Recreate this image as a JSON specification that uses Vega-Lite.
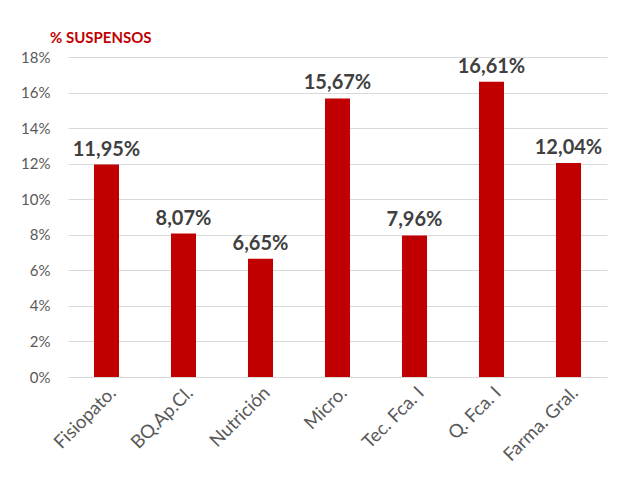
{
  "$schema": "https://vega.github.io/schema/vega-lite/v6.json",
  "autosize": {"type": "none"},
  "width": 539,
  "height": 320,
  "padding": {"left": 68, "top": 57, "right": 11, "bottom": 106},
  "background": "white",
  "config": {
    "locale": {"number": {"decimal": ",", "thousands": ".", "grouping": [3], "currency": ["", " €"]}},
    "view": {"stroke": null},
    "font": "Lato"
  },
  "title": {
    "text": "% SUSPENSOS",
    "anchor": "start",
    "frame": "group",
    "dx": -18,
    "offset": 4,
    "color": "#C00000",
    "fontSize": 15,
    "fontWeight": "bold",
    "font": "Lato"
  },
  "data": {
    "values": [
      {"asignatura": "Fisiopato.", "suspensos": 0.1195},
      {"asignatura": "BQ.Ap.Cl.", "suspensos": 0.0807},
      {"asignatura": "Nutrición", "suspensos": 0.0665},
      {"asignatura": "Micro.", "suspensos": 0.1567},
      {"asignatura": "Tec. Fca. I", "suspensos": 0.0796},
      {"asignatura": "Q. Fca. I", "suspensos": 0.1661},
      {"asignatura": "Farma. Gral.", "suspensos": 0.1204}
    ]
  },
  "encoding": {
    "x": {
      "field": "asignatura",
      "type": "nominal",
      "sort": null,
      "scale": {"paddingInner": 0.675, "paddingOuter": 0.3375},
      "axis": {
        "title": null,
        "labelAngle": -45,
        "labelFontSize": 18.5,
        "labelColor": "#595959",
        "labelPadding": 6,
        "ticks": false,
        "domain": false
      }
    },
    "y": {
      "field": "suspensos",
      "type": "quantitative",
      "scale": {"domain": [0, 0.18]},
      "axis": {
        "title": null,
        "format": ".0%",
        "values": [0, 0.02, 0.04, 0.06, 0.08, 0.1, 0.12, 0.14, 0.16, 0.18],
        "labelFontSize": 15,
        "labelColor": "#595959",
        "labelPadding": 18,
        "ticks": false,
        "domain": false,
        "gridColor": "#d9d9d9",
        "gridWidth": 1
      }
    }
  },
  "layer": [
    {"mark": {"type": "bar", "color": "#C00000"}},
    {
      "mark": {"type": "text", "dy": -9, "fontSize": 20, "fontWeight": "bold", "color": "#404040", "baseline": "alphabetic"},
      "encoding": {"text": {"field": "suspensos", "type": "quantitative", "format": ".2%"}}
    }
  ]
}
